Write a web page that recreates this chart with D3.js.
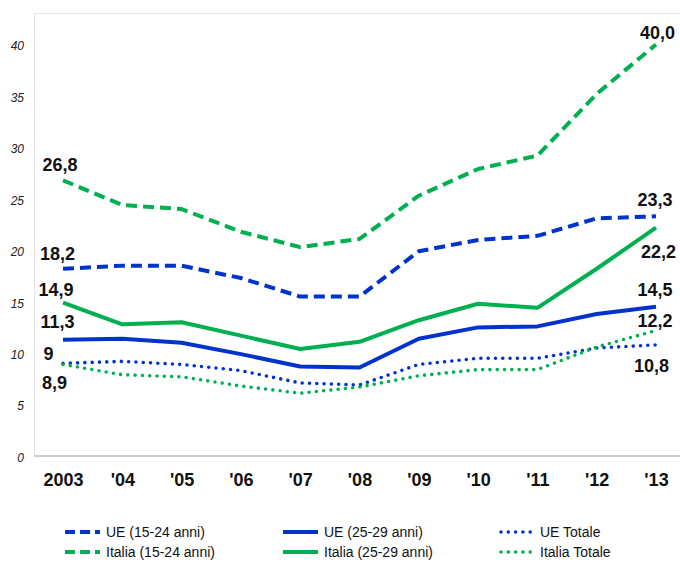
<!DOCTYPE html>
<html>
<head>
<meta charset="utf-8">
<script src="https://cdn.jsdelivr.net/npm/d3@7"></script>
<style>
  html, body { margin: 0; padding: 0; background: #fff; }
  svg { display: block; font-family: "Liberation Sans", Arial, Helvetica, sans-serif; }
</style>
</head>
<body>
<svg id="chart" width="680" height="562"></svg>
<script>
// ---- data ----
const years = ["2003", "'04", "'05", "'06", "'07", "'08", "'09", "'10", "'11", "'12", "'13"];
const yTicks = [0, 5, 10, 15, 20, 25, 30, 35, 40];

const ueGiovani    = [18.2, 18.5, 18.5, 17.3, 15.5, 15.5, 19.9, 21.0, 21.4, 23.1, 23.3];
const ue2529       = [11.3, 11.4, 11.0, 9.9, 8.7, 8.6, 11.4, 12.5, 12.6, 13.8, 14.5];
const ueTotale     = [9.0, 9.2, 8.9, 8.3, 7.1, 6.9, 8.9, 9.5, 9.5, 10.5, 10.8];
const italiaGiovani= [26.8, 24.4, 24.0, 21.8, 20.3, 21.1, 25.3, 27.9, 29.2, 35.2, 40.0];
const italia2529   = [14.9, 12.8, 13.0, 11.7, 10.4, 11.1, 13.2, 14.8, 14.4, 18.2, 22.2];
const italiaTotale = [8.9, 7.9, 7.7, 6.8, 6.1, 6.7, 7.8, 8.4, 8.4, 10.6, 12.2];

const seriesNames = ["UE (15-24 anni)", "UE (25-29 anni)", "UE Totale",
                     "Italia (15-24 anni)", "Italia (25-29 anni)", "Italia Totale"];
const firstLabels = ["18,2", "11,3", "9", "26,8", "14,9", "8,9"];
const lastLabels  = ["23,3", "14,5", "10,8", "40,0", "22,2", "12,2"];

// ---- styles ----
const BLUE = "#0033cc", GREEN = "#00b050";
const styles = [
  {color: BLUE,  dash: "11,6",  width: 4,   cap: "butt"},
  {color: BLUE,  dash: null,    width: 4,   cap: "butt"},
  {color: BLUE,  dash: "0,7.3", width: 3.6, cap: "round"},
  {color: GREEN, dash: "11,6",  width: 4,   cap: "butt"},
  {color: GREEN, dash: null,    width: 4,   cap: "butt"},
  {color: GREEN, dash: "0,7.3", width: 3.6, cap: "round"}
];
// label offsets (dx, dy) relative to first / last point
const firstOff = [[-5.5, -14.5], [-5.5, -17.5], [-14.5, -9], [-3, -15], [-7, -12.5], [-8.5, 19]];
const lastOff  = [[-1, -16], [-1, -17], [-4.5, 21], [1.5, -12], [2.5, 24], [-1, -9]];

const allSeries = [ueGiovani, ue2529, ueTotale, italiaGiovani, italia2529, italiaTotale];

const svg = d3.select("#chart");
const x = d3.scalePoint().domain(years).range([63, 656]);
const y = d3.scaleLinear().domain([0, 40]).range([456, 44.5]);

// frame
svg.append("line").attr("x1", 34).attr("x2", 680).attr("y1", 13.5).attr("y2", 13.5)
  .attr("stroke", "#e3e3e3").attr("stroke-width", 1);
svg.append("line").attr("x1", 34.5).attr("x2", 34.5).attr("y1", 13).attr("y2", 456)
  .attr("stroke", "#e3e3e3").attr("stroke-width", 1);

// y axis labels
const yAxis = d3.axisLeft(y).tickValues(yTicks).tickSize(0).tickPadding(0).tickFormat(d3.format("d"));
const gy = svg.append("g").attr("transform", "translate(24,1.5)").call(yAxis);
gy.select(".domain").remove();
gy.selectAll("text").attr("font-size", 12).attr("font-style", "italic")
  .attr("fill", "#222").attr("font-family", "'Liberation Sans', Arial, sans-serif");

// x axis
const xAxis = d3.axisBottom(x).tickSize(0).tickPadding(0);
const gx = svg.append("g").attr("transform", "translate(0,456)").call(xAxis);
gx.select(".domain").attr("stroke", "#bdbdbd").attr("stroke-width", 1.5)
  .attr("d", "M34,0H680");
gx.selectAll("text").attr("font-size", 18).attr("font-weight", "bold")
  .attr("fill", "#111").attr("dy", 0).attr("y", 30)
  .attr("font-family", "'Liberation Sans', Arial, sans-serif");

// lines
const line = d3.line().x((d, i) => x(years[i])).y(d => y(d)).curve(d3.curveLinear);
allSeries.forEach((s, k) => {
  const st = styles[k];
  svg.append("path").datum(s).attr("d", line)
    .attr("fill", "none").attr("stroke", st.color).attr("stroke-width", st.width)
    .attr("stroke-dasharray", st.dash).attr("stroke-linecap", st.cap)
    .attr("stroke-linejoin", "round");
});

// labels
const lbl = svg.append("g").attr("font-size", 18).attr("font-weight", "bold")
  .attr("fill", "#111").attr("text-anchor", "middle");
allSeries.forEach((s, k) => {
  lbl.append("text").attr("x", x(years[0]) + firstOff[k][0]).attr("y", y(s[0]) + firstOff[k][1])
    .attr("dominant-baseline", "central").text(firstLabels[k]);
  const n = s.length - 1;
  lbl.append("text").attr("x", x(years[n]) + lastOff[k][0]).attr("y", y(s[n]) + lastOff[k][1])
    .attr("dominant-baseline", "central").text(lastLabels[k]);
});

// legend
const colX = [65, 283, 499];
const rowY = [532, 552];
const leg = svg.append("g");
seriesNames.forEach((name, k) => {
  const col = k % 3, row = Math.floor(k / 3);
  const st = styles[k];
  const g = leg.append("g").attr("transform", `translate(${colX[col]},${rowY[row]})`);
  g.append("line").attr("x1", st.cap === "round" ? 2 : 0).attr("x2", 35).attr("y1", 0).attr("y2", 0)
    .attr("stroke", st.color).attr("stroke-width", st.width)
    .attr("stroke-dasharray", st.dash ? (st.cap === "round" ? "0,7.3" : "10,5") : null)
    .attr("stroke-linecap", st.cap);
  g.append("text").attr("x", 41).attr("y", 0).attr("dominant-baseline", "central")
    .attr("font-size", 14).attr("fill", "#111").text(name);
});
</script>
</body>
</html>
